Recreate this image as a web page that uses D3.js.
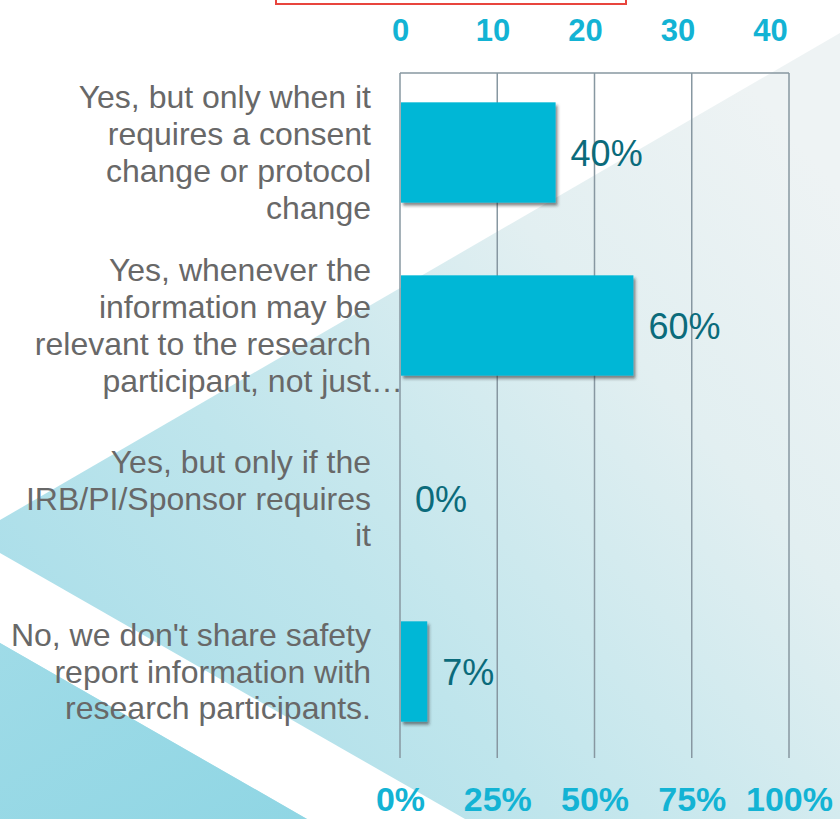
<!DOCTYPE html>
<html lang="en">
<head>
<meta charset="UTF-8">
<title>Safety report sharing</title>
<script src="https://cdn.jsdelivr.net/npm/d3@7"></script>
<style>
  html, body { margin: 0; padding: 0; background: #fff; }
  svg { display: block; font-family: "Liberation Sans", Arial, sans-serif; }
</style>
</head>
<body>
<div id="chart"></div>
<script>
// Data
var categories = [
  ["Yes, but only when it", "requires a consent", "change or protocol", "change"],
  ["Yes, whenever the", "information may be", "relevant to the research", "participant, not just\u2026"],
  ["Yes, but only if the", "IRB/PI/Sponsor requires", "it"],
  ["No, we don't share safety", "report information with", "research participants."]
];
var values = [40, 60, 0, 7];              // percent of respondents
var countTicks = [0, 10, 20, 30, 40];     // top axis (count)
var pctTicks = [0, 25, 50, 75, 100];      // bottom axis (percent)

var w = 840, h = 819;
var x0 = 400, plotTop = 73, plotBottom = 758;

var svg = d3.select("#chart").append("svg")
  .attr("width", w)
  .attr("height", h);

var defs = svg.append("defs");

// background gradients
var g1 = defs.append("linearGradient").attr("id", "bgBlue")
  .attr("x1", "0").attr("y1", "1").attr("x2", "1").attr("y2", "0.2");
g1.append("stop").attr("offset", "0%").attr("stop-color", "#a0dbe8");
g1.append("stop").attr("offset", "40%").attr("stop-color", "#bfe5ec");
g1.append("stop").attr("offset", "75%").attr("stop-color", "#e2eff1");
g1.append("stop").attr("offset", "100%").attr("stop-color", "#eef3f4");

var g2 = defs.append("linearGradient").attr("id", "bgLow")
  .attr("x1", "0").attr("y1", "0").attr("x2", "1").attr("y2", "1");
g2.append("stop").attr("offset", "0%").attr("stop-color", "#9fdbe7");
g2.append("stop").attr("offset", "100%").attr("stop-color", "#90d6e4");

var shadow = defs.append("filter").attr("id", "barShadow")
  .attr("x", "-20%").attr("y", "-20%").attr("width", "140%").attr("height", "150%");
shadow.append("feDropShadow")
  .attr("dx", 2).attr("dy", 3).attr("stdDeviation", 1.8)
  .attr("flood-color", "#2a2a2a").attr("flood-opacity", 0.55);

// Background shapes
var bg = svg.append("g");
bg.append("rect").attr("width", w).attr("height", h).attr("fill", "#ffffff");
bg.append("path")
  .attr("d", "M0,520 L840,33 L840,819 L0,819 Z")
  .attr("fill", "url(#bgBlue)");
bg.append("path")
  .attr("d", "M0,553 L465,819 L307,819 L0,643 Z")
  .attr("fill", "#ffffff");
bg.append("path")
  .attr("d", "M0,643 L307,819 L0,819 Z")
  .attr("fill", "url(#bgLow)");

// red frame fragment at the top
svg.append("rect")
  .attr("x", 276).attr("y", -10)
  .attr("width", 350).attr("height", 14)
  .attr("fill", "none")
  .attr("stroke", "#e8453e")
  .attr("stroke-width", 2);

// Scales
var xPct = d3.scaleLinear().domain([0, 100]).range([x0, 789]);
var xCount = d3.scaleLinear().domain([0, 40]).range([x0, 770]);
var yScale = d3.scaleBand()
  .domain(d3.range(categories.length))
  .range([66, 758])
  .paddingInner(0.42)
  .paddingOuter(0.21);

// gridlines
svg.append("g").selectAll("line")
  .data(pctTicks)
  .enter()
  .append("line")
  .attr("x1", function(d) { return xPct(d); })
  .attr("x2", function(d) { return xPct(d); })
  .attr("y1", plotTop)
  .attr("y2", plotBottom)
  .attr("stroke", "#8797a1")
  .attr("stroke-width", 1.5);

svg.append("line")
  .attr("x1", xPct(0)).attr("x2", xPct(100))
  .attr("y1", plotTop).attr("y2", plotTop)
  .attr("stroke", "#8797a1")
  .attr("stroke-width", 1.5);

// bars
svg.append("g").selectAll("rect")
  .data(values)
  .enter()
  .append("rect")
  .filter(function(d) { return d > 0; })
  .attr("x", xPct(0) + 1)
  .attr("y", function(d) { return yScale(values.indexOf(d)); })
  .attr("width", function(d) { return xPct(d) - xPct(0) - 1; })
  .attr("height", yScale.bandwidth())
  .attr("fill", "#00b7d6")
  .attr("filter", "url(#barShadow)");

// value labels
svg.append("g").selectAll("text")
  .data(values)
  .enter()
  .append("text")
  .attr("x", function(d) { return xPct(d) + 15; })
  .attr("y", function(d, i) { return yScale(i) + yScale.bandwidth() / 2 + 13; })
  .attr("font-size", "36px")
  .attr("fill", "#0b6b7b")
  .text(function(d) { return d + "%"; });

// category labels
var lineH = 36.7;
var catG = svg.append("g").selectAll("text")
  .data(categories)
  .enter()
  .append("text")
  .attr("font-size", "32px")
  .attr("fill", "#686868")
  .attr("text-anchor", "end")
  .attr("y", function(d, i) {
    return yScale(i) + yScale.bandwidth() / 2 - (d.length - 1) * lineH / 2 + 11;
  });

catG.selectAll("tspan")
  .data(function(d) { return d; })
  .enter()
  .append("tspan")
  .attr("x", 371)
  .attr("dy", function(d, i) { return i === 0 ? 0 : lineH; })
  .text(function(d) { return d.replace("\u2026", ""); })
  .filter(function(d) { return d.indexOf("\u2026") >= 0; })
  .each(function() {
    // trailing ellipsis hangs past the label edge
    d3.select(this.parentNode).append("tspan")
      .attr("text-anchor", "start")
      .attr("x", 371)
      .attr("dy", 0)
      .text("\u2026");
  });

// top axis (counts)
var topAxis = svg.append("g")
  .attr("transform", "translate(0,41)")
  .call(d3.axisTop(xCount).tickValues(countTicks).tickSize(0).tickPadding(0));
topAxis.select(".domain").remove();
topAxis.selectAll("text")
  .attr("y", 0).attr("dy", 0)
  .attr("font-size", "31px")
  .attr("font-weight", "bold")
  .attr("font-family", "Liberation Sans, Arial, sans-serif")
  .attr("fill", "#13b3d4");

// bottom axis (percent)
var bottomAxis = svg.append("g")
  .attr("transform", "translate(0,811)")
  .call(d3.axisBottom(xPct).tickValues(pctTicks).tickSize(0).tickPadding(0)
    .tickFormat(function(d) { return d + "%"; }));
bottomAxis.select(".domain").remove();
bottomAxis.selectAll("text")
  .attr("y", 0).attr("dy", 0)
  .attr("font-size", "34px")
  .attr("font-weight", "bold")
  .attr("font-family", "Liberation Sans, Arial, sans-serif")
  .attr("fill", "#13b3d4");
</script>
</body>
</html>
